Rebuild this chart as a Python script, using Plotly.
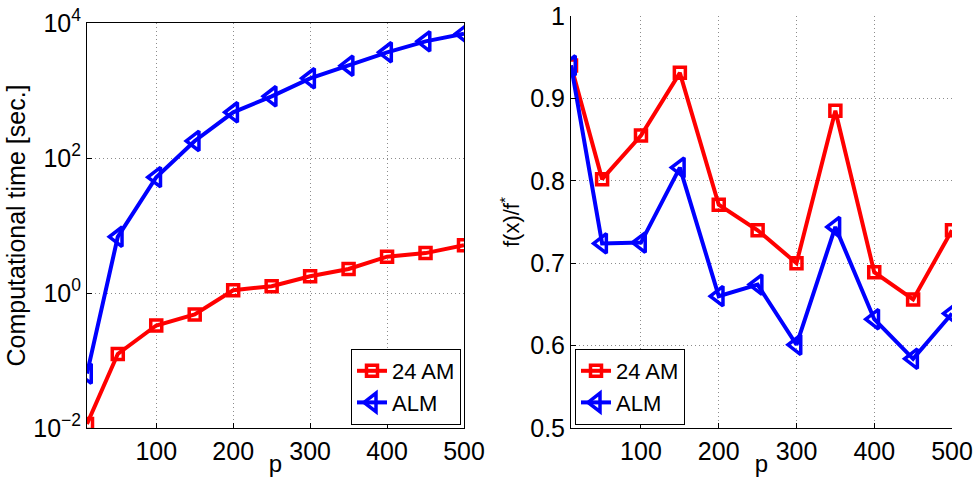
import plotly.graph_objects as go

# problem size
p = [10, 50, 100, 150, 200, 250, 300, 350, 400, 450, 500]

# computational time [sec.]
time_24am = [0.0115, 0.125, 0.33, 0.48, 1.1, 1.26, 1.77, 2.27, 3.45, 3.9, 5.1]
time_alm = [0.064, 6.8, 52, 179, 475, 820, 1515, 2330, 3680, 5350, 6950]

# objective ratio f(x)/f*
ratio_24am = [0.94, 0.802, 0.855, 0.931, 0.771, 0.74, 0.70, 0.885, 0.689, 0.656, 0.74]
ratio_alm = [0.94, 0.724, 0.725, 0.816, 0.66, 0.674, 0.601, 0.744, 0.632, 0.584, 0.639]

x_ticks = [100, 200, 300, 400, 500]
time_ticks = [0.01, 1, 100, 10000]
time_tick_text = ["10<sup>−2</sup>", "10<sup>0</sup>", "10<sup>2</sup>", "10<sup>4</sup>"]
ratio_ticks = [0.5, 0.6, 0.7, 0.8, 0.9, 1.0]
ratio_tick_text = ["0.5", "0.6", "0.7", "0.8", "0.9", "1"]

RED = "#ff0000"
BLUE = "#0000ff"
FONT = "Liberation Sans, Arial, Helvetica, sans-serif"

W, H = 974, 477


def series(x, y, name, color, symbol, size, xa, ya, legend):
    return go.Scatter(
        x=x, y=y, name=name, mode="lines+markers",
        line=dict(color=color, width=4),
        marker=dict(symbol=symbol, size=size, color=color,
                    line=dict(color=color, width=3.5)),
        xaxis=xa, yaxis=ya, legend=legend,
    )


fig = go.Figure()
fig.add_trace(series(p, time_24am, "24 AM", RED, "square-open", 11, "x", "y", "legend"))
fig.add_trace(series(p, time_alm, "ALM", BLUE, "triangle-left-open", 17, "x", "y", "legend"))
fig.add_trace(series(p, ratio_24am, "24 AM", RED, "square-open", 11, "x2", "y2", "legend2"))
fig.add_trace(series(p, ratio_alm, "ALM", BLUE, "triangle-left-open", 17, "x2", "y2", "legend2"))

# panel frames in pixels
L1, R1, T1, B1 = 87, 464, 23, 428
L2, R2, T2, B2 = 571, 952, 16, 428

grid = dict(showgrid=True, gridcolor="#8c8c8c", griddash="1px,3px", gridwidth=1)
tickfont = dict(family=FONT, size=25, color="black")

common_x = dict(
    range=[10, 500], tickvals=x_ticks, ticks="inside", ticklen=5,
    tickcolor="black", showline=True, linecolor="black", linewidth=1,
    tickfont=tickfont, zeroline=False, ticklabelstandoff=1,
    automargin=False,
    **grid,
)

xtitle = dict(text="p", font=dict(family=FONT, size=24), standoff=3)
legend_style = dict(
    yanchor="bottom", y=1 - 425 / H,
    bgcolor="white", bordercolor="black", borderwidth=1,
    font=dict(family=FONT, size=22), itemwidth=30,
    tracegroupgap=0,
)

fig.update_layout(
    template="none",
    width=W, height=H,
    margin=dict(l=0, r=0, t=0, b=0, autoexpand=False),
    paper_bgcolor="white", plot_bgcolor="white",
    font=dict(family=FONT, color="black"),
    xaxis=dict(
        domain=[L1 / W, R1 / W], anchor="y", mirror=True,
        title=xtitle,
        **common_x,
    ),
    yaxis=dict(
        domain=[1 - B1 / H, 1 - T1 / H], anchor="x",
        type="log", range=[-2, 4], tickvals=time_ticks, ticktext=time_tick_text,
        ticks="inside", ticklen=5, tickcolor="black", mirror=True,
        showline=True, linecolor="black", linewidth=1,
        tickfont=tickfont, zeroline=False, automargin=False,
        title=dict(text="Computational time [sec.]",
                   font=dict(family=FONT, size=25), standoff=0),
        **grid,
    ),
    xaxis2=dict(
        domain=[L2 / W, R2 / W], anchor="y2",
        title=xtitle,
        **common_x,
    ),
    yaxis2=dict(
        domain=[1 - B2 / H, 1 - T2 / H], anchor="x2",
        range=[0.5, 1.0], tickvals=ratio_ticks, ticktext=ratio_tick_text,
        ticks="inside", ticklen=5, tickcolor="black",
        showline=True, linecolor="black", linewidth=1,
        tickfont=tickfont, zeroline=False, automargin=False,
        title=dict(text="f(x)/f<sup>*</sup>",
                   font=dict(family=FONT, size=22), standoff=4),
        **grid,
    ),
    legend=dict(x=461 / W, xanchor="right", **legend_style),
    legend2=dict(x=575 / W, xanchor="left", **legend_style),
    showlegend=True,
)

fig.write_html("out.html")
